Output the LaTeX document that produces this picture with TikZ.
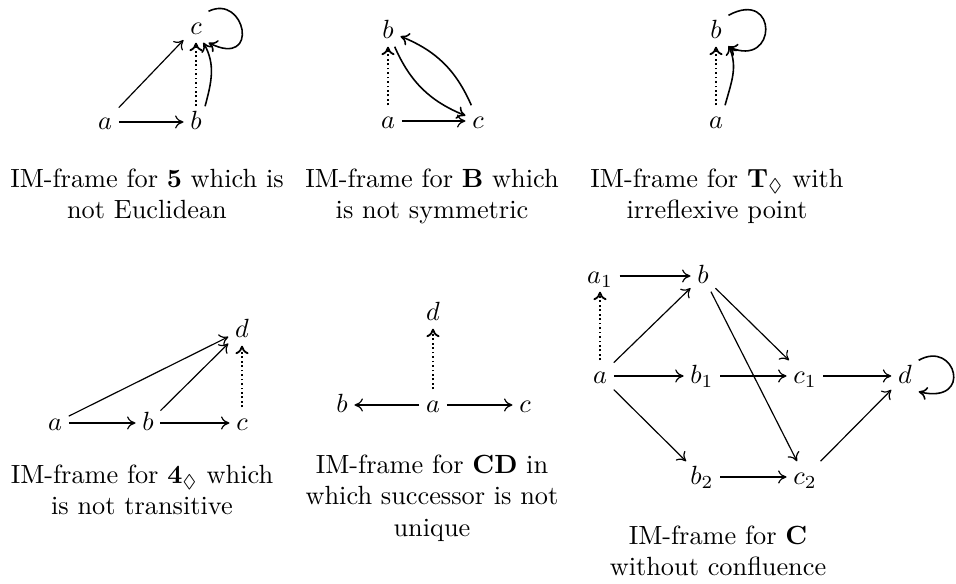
\documentclass[tikz,border=0pt]{standalone}
\usepackage{amssymb}
\usetikzlibrary{arrows.meta}
\tikzset{
  pt/.style={inner xsep=2.4pt,inner ysep=2pt,text height=1.5ex,text depth=.25ex},
  arr/.style={-{Computer Modern Rightarrow[length=3.2pt,width=5pt]},line width=0.45pt},
  dotarr/.style={arr,line width=0.7pt,dash pattern=on 0.7pt off 1pt},
  curv/.style={arr,line width=0.6pt},
  captext/.style={align=center,anchor=north,inner sep=0pt,font=\fontsize{10}{12}\selectfont}
}
\begin{document}
\begin{tikzpicture}[x=0.38pt,y=-0.38pt]
\useasboundingbox (0,0) rectangle (956,584);
% diagram 1
\node[pt] (p1a) at (105,122) {$a$};
\node[pt] (p1b) at (196,122) {$b$};
\node[pt] (p1c) at (196,27) {$c$};
\draw[arr] (p1a) -- (p1b);
\draw[arr] (p1a) -- (p1c);
\draw[dotarr] (p1b) -- (p1c);
\draw[curv] (p1b.60) to[out=75,in=-60] (p1c.-65);
\draw[curv] (p1c.north east) .. controls ([shift={(37,-18)}]p1c.north east) and ([shift={(52,26)}]p1c.south east) .. (p1c.south east);
\node[captext] (cap1) at (147,168) {IM-frame for \textbf{5} which is\\not Euclidean};
% diagram 2
\node[pt] (p2a) at (388,121) {$a$};
\node[pt] (p2b) at (388,31) {$b$};
\node[pt] (p2c) at (478,121) {$c$};
\draw[arr] (p2a) -- (p2c);
\draw[dotarr] (p2a) -- (p2b);
\draw[curv] (p2b) to[bend right=22] (p2c);
\draw[curv] (p2c) to[bend right=22] (p2b);
\node[captext] (cap2) at (432,168) {IM-frame for \textbf{B} which\\is not symmetric};
% diagram 3
\node[pt] (p3a) at (716,121) {$a$};
\node[pt] (p3b) at (716,31) {$b$};
\draw[dotarr] (p3a) -- (p3b);
\draw[curv] (p3a.60) to[out=75,in=-65] (p3b.-50);
\draw[curv] (p3b.north east) .. controls ([shift={(50,-27)}]p3b.north east) and ([shift={(49,22)}]p3b.south east) .. (p3b.south east);
\node[captext] (cap3) at (717,168) {IM-frame for $\mathbf{T}_\Diamond$ with\\irreflexive point};
% diagram 4
\node[pt] (p4a) at (55,423) {$a$};
\node[pt] (p4b) at (148,423) {$b$};
\node[pt] (p4c) at (242,423) {$c$};
\node[pt] (p4d) at (242,330) {$d$};
\draw[arr] (p4a) -- (p4b);
\draw[arr] (p4b) -- (p4c);
\draw[arr] (p4a) -- (p4d);
\draw[arr] (p4b) -- (p4d);
\draw[dotarr] (p4c) -- (p4d);
\node[captext] (cap4) at (142,464) {IM-frame for $\mathbf{4}_\Diamond$ which\\is not transitive};
% diagram 5
\node[pt] (p5d) at (433,313) {$d$};
\node[pt] (p5a) at (433,405) {$a$};
\node[pt] (p5b) at (342,405) {$b$};
\node[pt] (p5c) at (525,405) {$c$};
\draw[arr] (p5a) -- (p5b);
\draw[arr] (p5a) -- (p5c);
\draw[dotarr] (p5a) -- (p5d);
\node[captext] (cap5) at (432,454) {IM-frame for \textbf{CD} in\\which successor is not\\unique};
% diagram 6
\node[pt] (p6a1) at (600,276) {$a_1$};
\node[pt] (p6b) at (703,276) {$b$};
\node[pt] (p6a) at (600,376) {$a$};
\node[pt] (p6b1) at (702,376) {$b_1$};
\node[pt] (p6c1) at (805,376) {$c_1$};
\node[pt] (p6d) at (905,376) {$d$};
\node[pt] (p6b2) at (702,477) {$b_2$};
\node[pt] (p6c2) at (805,477) {$c_2$};
\draw[arr] (p6a1) -- (p6b);
\draw[dotarr] (p6a) -- (p6a1);
\draw[arr] (p6a) -- (p6b);
\draw[arr] (p6a) -- (p6b1);
\draw[arr] (p6a) -- (p6b2);
\draw[arr] (p6b) -- (p6c1);
\draw[arr] (p6b) -- (p6c2);
\draw[arr] (p6b1) -- (p6c1);
\draw[arr] (p6c1) -- (p6d);
\draw[arr] (p6b2) -- (p6c2);
\draw[arr] (p6c2) -- (p6d);
\draw[curv] (p6d.north east) .. controls ([shift={(37,-21)}]p6d.north east) and ([shift={(55,13)}]p6d.south east) .. (p6d.south east);
\node[captext] (cap6) at (718,525) {IM-frame for \textbf{C}\\without confluence};
\end{tikzpicture}
\end{document}
